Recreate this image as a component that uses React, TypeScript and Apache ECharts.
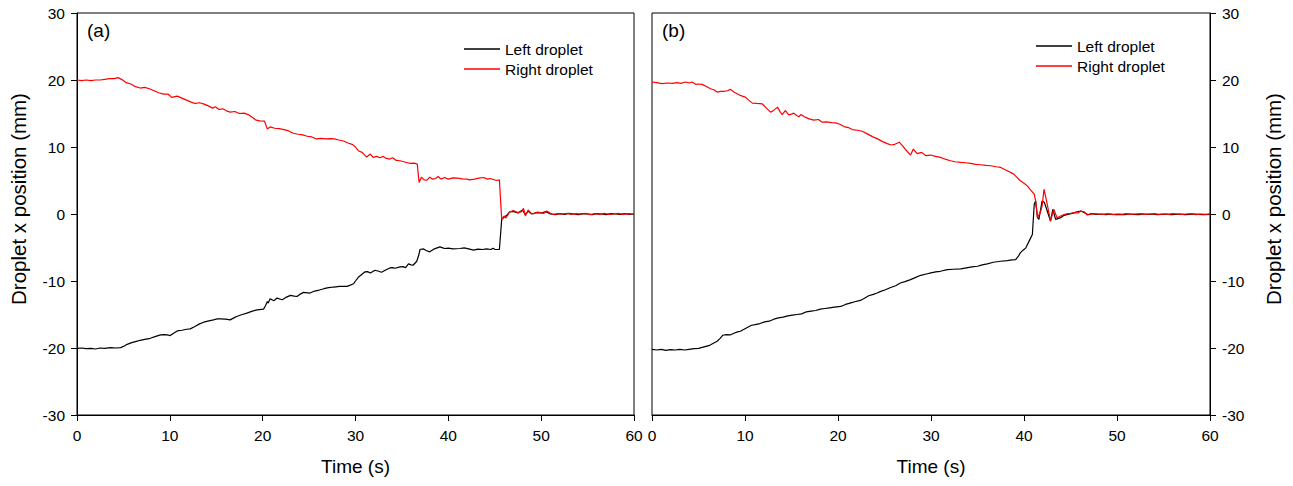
import React, { useEffect, useRef } from "react";
import * as echarts from "echarts";

// Panel (a)
const aLeft: number[][] = [[0,-20.05],[0.5,-20.0],[1,-20.1],[1.5,-20.05],[2,-20.15],[2.5,-20.0],[3,-20.05],[3.6,-19.95],[4.2,-20.0],[4.7,-19.95],[5.1,-19.7],[5.4,-19.45],[5.9,-19.2],[6.4,-19.0],[6.8,-18.85],[7.3,-18.7],[7.9,-18.55],[8.4,-18.3],[9.0,-18.05],[9.4,-18.0],[9.7,-18.05],[10.05,-18.15],[10.4,-17.8],[10.8,-17.45],[11.3,-17.35],[11.8,-17.2],[12.2,-17.15],[12.7,-16.8],[13.2,-16.4],[13.65,-16.15],[14.2,-15.95],[14.7,-15.8],[15.1,-15.65],[15.45,-15.65],[16.0,-15.7],[16.5,-15.8],[16.9,-15.5],[17.2,-15.3],[17.8,-15.0],[18.3,-14.8],[18.9,-14.5],[19.4,-14.3],[20.1,-14.2],[20.3,-13.7],[20.5,-13.05],[20.6,-13.3],[20.8,-12.65],[21.2,-12.95],[21.55,-12.55],[22.1,-12.8],[22.5,-12.45],[23.0,-12.15],[23.4,-12.25],[23.7,-12.3],[24.0,-12.0],[24.4,-11.7],[25.1,-11.8],[25.6,-11.5],[26.1,-11.35],[26.6,-11.15],[27.1,-11.0],[27.65,-10.9],[28.3,-10.8],[29.1,-10.8],[29.8,-10.4],[30.0,-10.0],[30.3,-9.45],[30.6,-9.1],[31.0,-8.65],[31.3,-8.6],[31.6,-8.8],[32.1,-8.4],[32.5,-8.55],[32.8,-8.7],[33.2,-8.4],[33.7,-8.05],[34.0,-8.0],[34.25,-8.1],[34.8,-7.9],[35.1,-7.85],[35.4,-8.0],[35.7,-7.45],[36.0,-7.6],[36.2,-7.65],[36.6,-7.05],[36.8,-6.2],[36.95,-5.3],[37.3,-5.2],[37.6,-5.45],[38.0,-5.65],[38.5,-5.2],[39.1,-4.9],[39.4,-5.05],[39.6,-5.15],[40.0,-5.1],[40.5,-5.2],[41.25,-5.15],[41.7,-5.05],[42.2,-5.2],[42.7,-5.4],[43.2,-5.25],[43.7,-5.3],[44.1,-5.2],[44.6,-5.3],[44.8,-5.1],[45.05,-5.3],[45.5,-5.3],[45.75,-0.8],[46.0,-0.5],[46.3,-0.2],[46.6,0.3],[47.0,0.4],[47.5,0.15],[48.0,0.6],[48.3,-0.1],[48.6,0.4],[49.0,0.0],[49.5,0.2],[50.0,0.15],[50.5,0.35],[51.0,0.0],[51.5,-0.1],[52.0,0.05],[52.5,-0.05],[53.0,0.1],[53.5,0.0],[54.0,-0.1],[54.5,0.05],[55.0,0.0],[55.5,-0.1],[56.0,0.05],[56.5,0.0],[57.0,-0.1],[57.5,0.05],[58.0,0.0],[58.5,-0.05],[59.0,0.05],[59.5,-0.05],[60,0.0]];

const aRight: number[][] = [[0,20.0],[0.5,19.9],[1,20.0],[1.5,19.9],[2,20.0],[2.5,20.0],[3,20.1],[3.5,20.2],[4,20.2],[4.4,20.35],[4.8,20.1],[5.3,19.6],[5.8,19.4],[6.3,19.0],[6.8,18.8],[7.3,18.9],[7.8,18.7],[8.3,18.4],[8.8,18.1],[9.3,17.9],[9.8,17.9],[10.2,17.4],[10.8,17.6],[11.3,17.3],[11.8,17.0],[12.3,16.7],[12.7,16.5],[13.2,16.6],[13.7,16.4],[14.2,16.1],[14.6,15.8],[14.9,16.0],[15.3,15.6],[15.7,15.7],[16.1,15.4],[16.5,15.2],[17.0,15.3],[17.5,15.0],[18.0,15.05],[18.5,14.8],[18.9,14.4],[19.3,14.0],[19.7,13.9],[20.2,13.85],[20.5,12.7],[20.8,13.0],[21.3,12.8],[21.8,12.75],[22.3,12.6],[22.8,12.4],[23.3,12.05],[23.8,11.9],[24.3,11.8],[24.8,11.6],[25.3,11.5],[25.8,11.2],[26.3,11.3],[26.8,11.2],[27.3,11.25],[27.7,11.2],[28.2,11.05],[28.7,10.9],[29.2,10.6],[29.7,10.35],[30.0,10.0],[30.3,9.45],[30.7,9.2],[31.2,8.5],[31.6,8.95],[31.9,8.45],[32.3,8.6],[32.6,8.4],[33.0,8.6],[33.3,8.3],[33.7,8.2],[34.0,8.4],[34.4,8.0],[34.8,7.95],[35.2,7.8],[35.6,7.65],[35.9,7.55],[36.3,7.6],[36.65,7.45],[36.85,4.7],[37.1,5.5],[37.4,5.1],[37.7,5.05],[38.0,5.5],[38.3,5.2],[38.6,5.3],[38.9,5.6],[39.2,5.2],[39.6,5.45],[40.0,5.2],[40.5,5.4],[41.0,5.35],[41.5,5.25],[42.0,5.2],[42.3,5.1],[42.8,5.2],[43.3,5.35],[43.8,5.45],[44.2,5.2],[44.5,5.3],[44.85,5.15],[45.2,5.0],[45.5,5.1],[45.75,-0.8],[46.0,-0.3],[46.2,-0.6],[46.6,0.3],[47.0,0.5],[47.5,0.2],[47.9,0.35],[48.1,0.85],[48.3,-0.3],[48.6,0.6],[48.9,0.1],[49.2,0.05],[49.6,0.3],[49.9,0.2],[50.3,0.1],[50.6,0.45],[51.0,0.1],[51.3,-0.05],[51.8,0.05],[52.3,0.0],[52.8,0.1],[53.3,-0.05],[53.8,0.05],[54.3,0.0],[54.8,0.1],[55.3,-0.1],[55.8,0.05],[56.3,-0.05],[56.8,0.1],[57.3,-0.05],[57.8,0.0],[58.3,0.1],[58.8,-0.05],[59.3,0.05],[60,0.0]];

// Panel (b)
const bLeft: number[][] = [[0,-20.2],[0.5,-20.3],[1,-20.2],[1.5,-20.35],[2,-20.25],[2.5,-20.3],[3,-20.2],[3.5,-20.3],[4,-20.2],[4.5,-20.1],[5.0,-20.05],[5.4,-19.9],[5.8,-19.75],[6.2,-19.6],[6.6,-19.3],[7.0,-19.0],[7.3,-18.6],[7.6,-18.1],[8.0,-18.0],[8.4,-18.05],[8.8,-17.8],[9.2,-17.6],[9.5,-17.5],[9.9,-17.2],[10.3,-16.9],[10.7,-16.6],[11.1,-16.5],[11.6,-16.35],[12.1,-16.1],[12.6,-16.0],[13.1,-15.7],[13.6,-15.5],[14.1,-15.4],[14.6,-15.2],[15.1,-15.1],[15.6,-15.0],[16.1,-14.9],[16.6,-14.6],[17.1,-14.5],[17.6,-14.4],[18.1,-14.2],[18.6,-14.1],[19.1,-14.0],[19.6,-13.9],[20.3,-13.8],[20.8,-13.5],[21.3,-13.3],[21.8,-13.1],[22.4,-12.9],[22.8,-12.6],[23.3,-12.2],[23.8,-12.0],[24.2,-11.8],[24.6,-11.55],[25.1,-11.3],[25.6,-11.0],[26.2,-10.7],[26.7,-10.3],[27.2,-10.1],[27.8,-9.8],[28.3,-9.5],[28.9,-9.15],[29.5,-8.95],[30.0,-8.8],[30.5,-8.65],[31.0,-8.55],[31.75,-8.3],[32.4,-8.25],[33.2,-8.2],[33.8,-8.05],[34.4,-7.9],[35.0,-7.8],[35.5,-7.6],[36.05,-7.45],[36.7,-7.2],[37.5,-7.05],[38.2,-6.95],[38.7,-6.85],[39.1,-6.8],[39.4,-6.3],[39.6,-5.8],[39.9,-5.4],[40.2,-5.05],[40.55,-4.05],[40.9,-3.05],[41.1,1.45],[41.25,1.95],[41.45,-0.55],[41.6,-0.8],[41.95,1.95],[42.2,1.7],[42.5,0.45],[42.85,-1.05],[43.1,0.7],[43.4,-0.8],[43.95,-0.55],[44.3,-0.2],[44.7,-0.05],[45.2,0.1],[45.6,0.3],[46.1,0.45],[46.5,0.2],[46.9,-0.1],[47.3,0.05],[47.8,-0.05],[48.3,0.0],[48.8,-0.1],[49.3,0.0],[49.8,-0.1],[50.3,-0.05],[50.8,-0.1],[51.3,0.0],[51.8,-0.05],[52.3,-0.1],[52.8,0.0],[53.3,-0.05],[53.8,0.0],[54.3,-0.1],[54.8,-0.05],[55.3,0.0],[55.8,-0.1],[56.3,-0.05],[56.8,0.0],[57.3,-0.1],[57.8,-0.05],[58.3,0.0],[58.8,-0.05],[59.3,-0.1],[60,-0.05]];

const bRight: number[][] = [[0,19.7],[0.5,19.6],[1.1,19.45],[1.6,19.55],[2.2,19.5],[2.7,19.6],[3.1,19.5],[3.6,19.7],[4.0,19.55],[4.3,19.7],[4.7,19.35],[5.0,19.4],[5.4,19.35],[5.9,19.0],[6.3,18.7],[6.7,18.5],[7.0,18.2],[7.4,18.3],[7.7,18.3],[8.1,18.4],[8.45,18.6],[8.8,18.2],[9.35,17.8],[9.7,17.6],[10.05,17.45],[10.4,17.0],[10.8,16.55],[11.3,16.5],[11.85,16.45],[12.3,15.8],[12.75,15.2],[13.1,15.5],[13.5,15.95],[13.8,15.2],[14.0,14.85],[14.35,15.45],[14.7,14.8],[15.0,14.9],[15.25,15.05],[15.55,14.7],[15.8,14.5],[16.0,14.85],[16.4,14.5],[16.9,14.2],[17.4,14.0],[17.9,14.1],[18.3,13.7],[18.8,13.75],[19.3,13.65],[19.75,13.6],[20.2,13.4],[20.65,13.05],[21.1,12.9],[21.55,12.6],[22.1,12.5],[22.6,12.35],[23.1,12.0],[23.7,11.55],[24.2,11.25],[24.8,10.8],[25.3,10.5],[25.7,10.3],[26.1,10.4],[26.6,10.7],[27.0,10.1],[27.3,9.55],[27.8,8.8],[28.1,9.7],[28.5,9.0],[29.0,9.2],[29.45,8.7],[29.95,8.8],[30.5,8.6],[31.0,8.45],[31.5,8.2],[32.1,7.95],[32.6,7.8],[33.2,7.7],[33.7,7.65],[34.25,7.55],[34.8,7.4],[35.3,7.35],[35.9,7.25],[36.4,7.2],[37.0,7.05],[37.5,6.95],[38.2,6.45],[38.9,5.95],[39.3,5.4],[39.6,4.95],[40.0,4.6],[40.35,4.2],[40.7,3.6],[41.1,2.95],[41.25,1.95],[41.45,-0.55],[41.75,0.2],[41.95,1.2],[42.15,3.7],[42.5,1.45],[42.85,-1.05],[43.2,0.7],[43.55,-0.55],[43.95,-0.3],[44.3,-0.1],[44.7,0.05],[45.0,0.1],[45.4,0.2],[45.8,0.15],[46.1,0.45],[46.5,0.3],[46.8,-0.15],[47.2,0.0],[47.55,0.05],[48.0,0.0],[48.5,-0.05],[49.0,0.05],[49.5,-0.1],[50.0,0.0],[50.5,-0.05],[51.0,0.05],[51.5,-0.05],[52.0,0.0],[52.5,0.05],[53.0,-0.05],[53.5,0.0],[54.0,0.05],[54.5,-0.05],[55.0,0.0],[55.5,-0.05],[56.0,0.05],[56.5,0.0],[57.0,-0.05],[57.5,0.0],[58.0,0.05],[58.5,-0.1],[59.0,0.0],[59.5,-0.05],[60,0.0]];

const seriesNames = ["Left droplet", "Right droplet"];
const panelLabels = ["(a)", "(b)"];
const xName = "Time (s)";
const yName = "Droplet x position (mm)";

const FONT = "'Liberation Sans', Arial, sans-serif";

export default function App() {
  const ref = useRef<HTMLDivElement>(null);
  useEffect(() => {
    if (!ref.current) return;
    const chart = echarts.init(ref.current, undefined, { renderer: "svg" });
    const axisCommon = {
      axisLine: { show: true, onZero: false, lineStyle: { color: "#000", width: 1 } },
      axisTick: { show: true, inside: false, length: 6, lineStyle: { color: "#000", width: 1 } },
      splitLine: { show: false },
      nameTextStyle: { color: "#000", fontSize: 19, fontFamily: FONT },
    };
    const xAxisFor = (gi: number) => ({
      ...axisCommon,
      gridIndex: gi,
      type: "value",
      min: 0,
      max: 60,
      interval: 10,
      name: xName,
      nameLocation: "middle",
      nameGap: 42,
      axisLabel: { color: "#000", fontSize: 15.5, fontFamily: FONT, margin: 12 },
    });
    const yAxisFor = (gi: number, pos: "left" | "right") => ({
      ...axisCommon,
      gridIndex: gi,
      type: "value",
      position: pos,
      min: -30,
      max: 30,
      interval: 10,
      axisLabel: { color: "#000", fontSize: 15.5, fontFamily: FONT, margin: 12 },
    });
    const lineSeries = (name: string, data: number[][], idx: number, color: string) => ({
      type: "line",
      name,
      data,
      xAxisIndex: idx,
      yAxisIndex: idx,
      showSymbol: false,
      symbol: "none",
      lineStyle: { color, width: 1.2 },
      itemStyle: { color },
      emphasis: { disabled: true },
    });
    const legendFor = (left: number, top: number) => ({
      left,
      top,
      orient: "vertical",
      icon: "rect",
      itemWidth: 36,
      itemHeight: 1.4,
      itemGap: 4,
      selectedMode: false,
      textStyle: { color: "#000", fontSize: 15.5, fontFamily: FONT },
      data: seriesNames,
    });
    const yTitle = (x: number) => ({
      type: "text",
      x,
      y: 199,
      rotation: Math.PI / 2,
      style: { text: yName, fontSize: 20.5, fontFamily: FONT, fill: "#000", align: "center", verticalAlign: "middle" },
    });
    chart.setOption({
      animation: false,
      backgroundColor: "#fff",
      grid: [
        { left: 77, top: 13, width: 557, height: 402, show: true, borderColor: "#000", borderWidth: 1, backgroundColor: "transparent" },
        { left: 652, top: 13, width: 558, height: 402, show: true, borderColor: "#000", borderWidth: 1, backgroundColor: "transparent" },
      ],
      xAxis: [xAxisFor(0), xAxisFor(1)],
      yAxis: [yAxisFor(0, "left"), yAxisFor(1, "right")],
      legend: [legendFor(459, 36), legendFor(1031, 33)],
      graphic: [
        { type: "text", left: 87, top: 21, style: { text: panelLabels[0], fontSize: 19, fontFamily: FONT, fill: "#000" } },
        { type: "text", left: 662, top: 21, style: { text: panelLabels[1], fontSize: 19, fontFamily: FONT, fill: "#000" } },
        yTitle(18),
        yTitle(1273),
      ],
      series: [
        lineSeries(seriesNames[0], aLeft, 0, "#000000"),
        lineSeries(seriesNames[1], aRight, 0, "#ff0000"),
        lineSeries(seriesNames[0], bLeft, 1, "#000000"),
        lineSeries(seriesNames[1], bRight, 1, "#ff0000"),
      ],
    });
    return () => chart.dispose();
  }, []);
  return <div ref={ref} style={{ position: "fixed", left: 0, top: 0, width: 1293, height: 486 }} />;
}
